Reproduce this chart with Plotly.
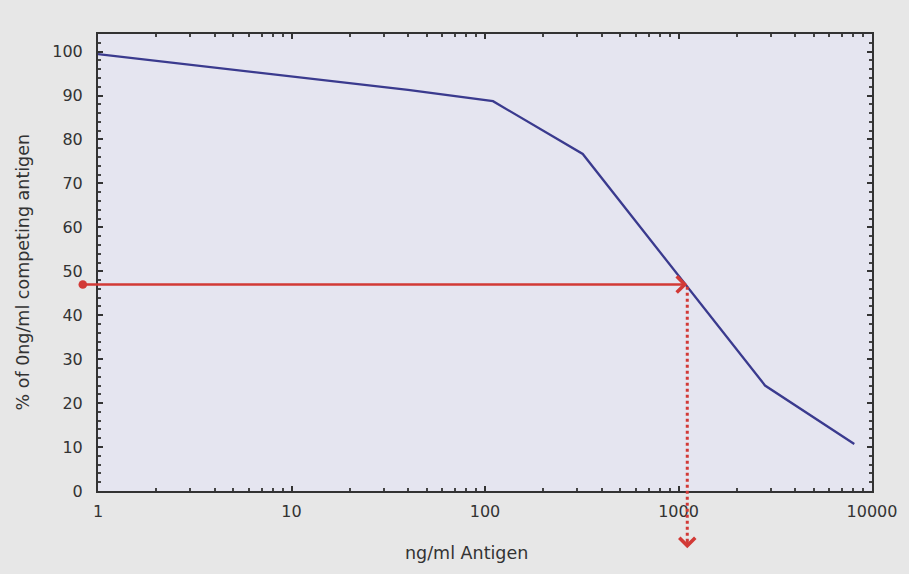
import math
import plotly.graph_objects as go

# ---- data ----
antigen_ng_ml = [1, 40, 110, 320, 2800, 8100]
percent_of_zero = [99.4, 91.3, 88.7, 76.7, 24.0, 10.7]

x_tick_vals = [1, 10, 100, 1000, 10000]
x_tick_text = ["1", "10", "100", "1000", "10000"]
y_tick_vals = [0, 10, 20, 30, 40, 50, 60, 70, 80, 90, 100]

# read-off (IC50-like) guide
guide_y = 47.0          # % level
guide_x = 1110.0        # ng/ml where curve crosses guide_y
guide_start_x = 0.82    # horizontal arrow starts just left of the axis
guide_end_y = -13.0     # vertical arrow ends below the axis

X_RANGE = [0, 4]        # log10
Y_RANGE = [0, 104]

FONT = "DejaVu Sans, Arial, sans-serif"
RED = "#d23a36"
TXT = "#333333"

fig = go.Figure()
fig.add_trace(go.Scatter(
    x=antigen_ng_ml, y=percent_of_zero, mode="lines",
    line=dict(color="#3a3a8e", width=2.3), showlegend=False, hoverinfo="skip"))

# horizontal solid arrow
fig.add_annotation(
    x=math.log10(guide_x), y=guide_y, xref="x", yref="y",
    ax=math.log10(guide_start_x), ay=guide_y, axref="x", ayref="y",
    showarrow=True, arrowhead=4, arrowsize=1.3, arrowwidth=2.4,
    arrowcolor=RED, arrowside="end+start", startarrowhead=6, startarrowsize=0.9,
    text="")

# vertical dotted arrow (paper coords derived from axis ranges)
px = (math.log10(guide_x) - X_RANGE[0]) / (X_RANGE[1] - X_RANGE[0])
py_top = (guide_y - Y_RANGE[0]) / (Y_RANGE[1] - Y_RANGE[0])
py_bot = (guide_end_y - Y_RANGE[0]) / (Y_RANGE[1] - Y_RANGE[0])
fig.add_shape(type="line", xref="paper", yref="paper",
              x0=px, x1=px, y0=py_top - 0.005, y1=py_bot + 0.012,
              line=dict(color=RED, width=3, dash="dot"))
fig.add_annotation(
    x=px, y=py_bot, xref="paper", yref="paper",
    ax=0, ay=-10, showarrow=True, arrowhead=4, arrowsize=1.4, arrowwidth=2.2,
    arrowcolor=RED, text="")

# axis titles as annotations
fig.add_annotation(text="ng/ml Antigen", xref="paper", yref="paper",
                   x=0.4756, y=-0.136, showarrow=False,
                   font=dict(family=FONT, size=17.5, color=TXT),
                   xanchor="center", yanchor="middle")
fig.add_annotation(text="% of 0ng/ml competing antigen", xref="paper", yref="paper",
                   x=-0.0964, y=0.479, showarrow=False, textangle=-90,
                   font=dict(family=FONT, size=17.5, color=TXT),
                   xanchor="center", yanchor="middle")

fig.update_xaxes(
    type="log", range=X_RANGE, tickvals=x_tick_vals, ticktext=x_tick_text,
    showgrid=False, zeroline=False,
    showline=True, linecolor=TXT, linewidth=2, mirror="ticks",
    ticks="inside", ticklen=5, tickcolor=TXT, tickwidth=1.5,
    minor=dict(ticks="inside", ticklen=3, tickcolor="#444444", dtick="D1", showgrid=False),
    tickfont=dict(family=FONT, size=16, color=TXT), ticklabelstandoff=5)
fig.update_yaxes(
    range=Y_RANGE, tickvals=y_tick_vals,
    showgrid=False, zeroline=False,
    showline=True, linecolor=TXT, linewidth=2, mirror="ticks",
    ticks="inside", ticklen=5, tickcolor=TXT, tickwidth=1.5,
    minor=dict(ticks="inside", ticklen=3, tickcolor="#444444", dtick=2, showgrid=False),
    tickfont=dict(family=FONT, size=16, color=TXT), ticklabelstandoff=10)

fig.update_layout(
    width=909, height=574,
    margin=dict(l=98, r=33, t=34, b=83),
    paper_bgcolor="#e7e7e7", plot_bgcolor="#e5e5f0",
    font=dict(family=FONT, size=16, color=TXT),
    showlegend=False)

fig.write_html(
    "out.html",
    config={"displayModeBar": False},
    post_script="document.body.style.margin='0';document.body.style.background='#e7e7e7';")
